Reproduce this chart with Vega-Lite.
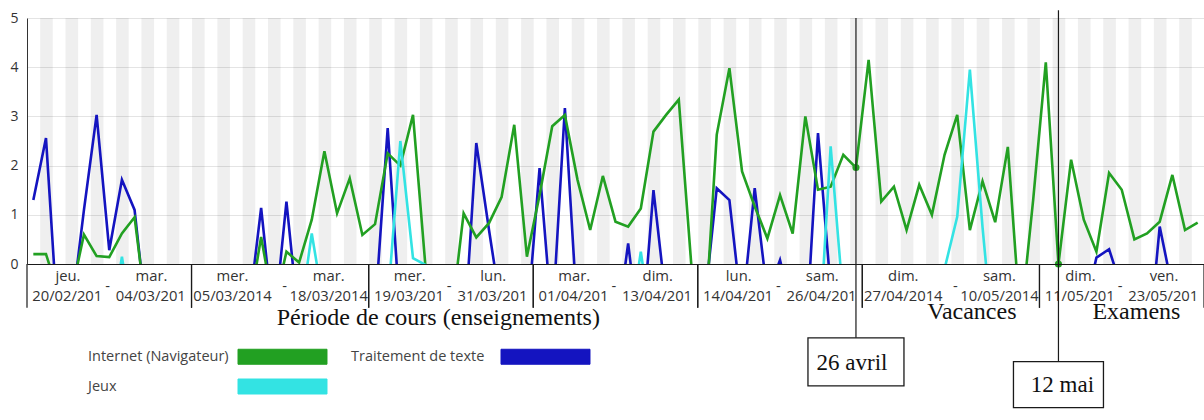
{
  "$schema": "https://vega.github.io/schema/vega-lite/v6.json",
  "width": 1177,
  "height": 246,
  "autosize": {"type": "none"},
  "padding": {"left": 27, "top": 18, "right": 0, "bottom": 156},
  "background": "white",
  "config": {"view": {"stroke": null}, "font": "Open Sans"},
  "datasets": {
    "usage": [
      {"date": "2014-02-20", "internet": 0.2, "texte": 1.3, "jeux": -1},
      {"date": "2014-02-21", "internet": 0.2, "texte": 2.56, "jeux": -1},
      {"date": "2014-02-22", "internet": -0.6, "texte": -1.5, "jeux": -1},
      {"date": "2014-02-23", "internet": -0.6, "texte": -1.0, "jeux": -1},
      {"date": "2014-02-24", "internet": 0.6, "texte": 1.1, "jeux": -1},
      {"date": "2014-02-25", "internet": 0.16, "texte": 3.03, "jeux": -1},
      {"date": "2014-02-26", "internet": 0.14, "texte": 0.28, "jeux": -1.5},
      {"date": "2014-02-27", "internet": 0.62, "texte": 1.71, "jeux": 0.15},
      {"date": "2014-02-28", "internet": 0.95, "texte": 1.1, "jeux": -1.5},
      {"date": "2014-03-01", "internet": -1.1, "texte": -1.24, "jeux": -1},
      {"date": "2014-03-02", "internet": -1, "texte": -1, "jeux": -1},
      {"date": "2014-03-03", "internet": -1, "texte": -1, "jeux": -1},
      {"date": "2014-03-04", "internet": -1, "texte": -1, "jeux": -1},
      {"date": "2014-03-05", "internet": -1, "texte": -1, "jeux": -1},
      {"date": "2014-03-06", "internet": -1, "texte": -1, "jeux": -1},
      {"date": "2014-03-07", "internet": -1, "texte": -1, "jeux": -1},
      {"date": "2014-03-08", "internet": -1, "texte": -1, "jeux": -1},
      {"date": "2014-03-09", "internet": -1, "texte": -1.0, "jeux": -1},
      {"date": "2014-03-10", "internet": 0.55, "texte": 1.14, "jeux": -1},
      {"date": "2014-03-11", "internet": -0.9, "texte": -1.3, "jeux": -1},
      {"date": "2014-03-12", "internet": 0.25, "texte": 1.27, "jeux": -1},
      {"date": "2014-03-13", "internet": 0.03, "texte": -1.27, "jeux": -1.2},
      {"date": "2014-03-14", "internet": 0.9, "texte": -1, "jeux": 0.62},
      {"date": "2014-03-15", "internet": 2.29, "texte": -1, "jeux": -0.93},
      {"date": "2014-03-16", "internet": 1.03, "texte": -1, "jeux": -1},
      {"date": "2014-03-17", "internet": 1.74, "texte": -1, "jeux": -1},
      {"date": "2014-03-18", "internet": 0.59, "texte": -1, "jeux": -1},
      {"date": "2014-03-19", "internet": 0.81, "texte": -0.97, "jeux": -1},
      {"date": "2014-03-20", "internet": 2.25, "texte": 2.76, "jeux": -0.79},
      {"date": "2014-03-21", "internet": 2.0, "texte": -1.13, "jeux": 2.5},
      {"date": "2014-03-22", "internet": 3.03, "texte": -1, "jeux": 0.12},
      {"date": "2014-03-23", "internet": -0.1, "texte": -1, "jeux": -0.02},
      {"date": "2014-03-24", "internet": -1, "texte": -1, "jeux": -1},
      {"date": "2014-03-25", "internet": -1.16, "texte": -1, "jeux": -1},
      {"date": "2014-03-26", "internet": 1.03, "texte": -1.64, "jeux": -1},
      {"date": "2014-03-27", "internet": 0.54, "texte": 2.46, "jeux": -1},
      {"date": "2014-03-28", "internet": 0.83, "texte": 0.7, "jeux": -1},
      {"date": "2014-03-29", "internet": 1.36, "texte": -0.97, "jeux": -1},
      {"date": "2014-03-30", "internet": 2.83, "texte": -1, "jeux": -1},
      {"date": "2014-03-31", "internet": 0.15, "texte": -1.25, "jeux": -1},
      {"date": "2014-04-01", "internet": 1.4, "texte": 1.95, "jeux": -1},
      {"date": "2014-04-02", "internet": 2.8, "texte": -1.2, "jeux": -1},
      {"date": "2014-04-03", "internet": 3.03, "texte": 3.17, "jeux": -1},
      {"date": "2014-04-04", "internet": 1.71, "texte": -1.11, "jeux": -1},
      {"date": "2014-04-05", "internet": 0.69, "texte": -1, "jeux": -1},
      {"date": "2014-04-06", "internet": 1.79, "texte": -1, "jeux": -1},
      {"date": "2014-04-07", "internet": 0.86, "texte": -1.5, "jeux": -1},
      {"date": "2014-04-08", "internet": 0.76, "texte": 0.42, "jeux": -1.5},
      {"date": "2014-04-09", "internet": 1.13, "texte": -1.7, "jeux": 0.25},
      {"date": "2014-04-10", "internet": 2.69, "texte": 1.5, "jeux": -1.5},
      {"date": "2014-04-11", "internet": 3.03, "texte": -0.77, "jeux": -1},
      {"date": "2014-04-12", "internet": 3.34, "texte": -1, "jeux": -1},
      {"date": "2014-04-13", "internet": -0.05, "texte": -1, "jeux": -1},
      {"date": "2014-04-14", "internet": -1.55, "texte": -0.9, "jeux": -1},
      {"date": "2014-04-15", "internet": 2.63, "texte": 1.54, "jeux": -1},
      {"date": "2014-04-16", "internet": 3.98, "texte": 1.3, "jeux": -1},
      {"date": "2014-04-17", "internet": 1.88, "texte": -1.0, "jeux": -1},
      {"date": "2014-04-18", "internet": 1.17, "texte": 1.54, "jeux": -1},
      {"date": "2014-04-19", "internet": 0.52, "texte": -0.63, "jeux": -1},
      {"date": "2014-04-20", "internet": 1.4, "texte": 0.08, "jeux": -1},
      {"date": "2014-04-21", "internet": 0.62, "texte": -1, "jeux": -1},
      {"date": "2014-04-22", "internet": 3.0, "texte": -1.7, "jeux": -1},
      {"date": "2014-04-23", "internet": 1.51, "texte": 2.66, "jeux": -1.95},
      {"date": "2014-04-24", "internet": 1.57, "texte": -0.5, "jeux": 2.39},
      {"date": "2014-04-25", "internet": 2.22, "texte": -1, "jeux": -0.75},
      {"date": "2014-04-26", "internet": 1.96, "texte": -1, "jeux": -1},
      {"date": "2014-04-27", "internet": 4.15, "texte": -1, "jeux": -1},
      {"date": "2014-04-28", "internet": 1.27, "texte": -1, "jeux": -1},
      {"date": "2014-04-29", "internet": 1.57, "texte": -1, "jeux": -1},
      {"date": "2014-04-30", "internet": 0.69, "texte": -1, "jeux": -1},
      {"date": "2014-05-01", "internet": 1.61, "texte": -1, "jeux": -1},
      {"date": "2014-05-02", "internet": 1.0, "texte": -1, "jeux": -1},
      {"date": "2014-05-03", "internet": 2.22, "texte": -1, "jeux": -0.1},
      {"date": "2014-05-04", "internet": 3.03, "texte": -1, "jeux": 0.96},
      {"date": "2014-05-05", "internet": 0.69, "texte": -1, "jeux": 3.95},
      {"date": "2014-05-06", "internet": 1.68, "texte": -1, "jeux": 0.75},
      {"date": "2014-05-07", "internet": 0.85, "texte": -1, "jeux": -2},
      {"date": "2014-05-08", "internet": 2.38, "texte": -1, "jeux": -1},
      {"date": "2014-05-09", "internet": -1.2, "texte": -1, "jeux": -1},
      {"date": "2014-05-10", "internet": 1.3, "texte": -1, "jeux": -1},
      {"date": "2014-05-11", "internet": 4.1, "texte": -1, "jeux": -1},
      {"date": "2014-05-12", "internet": 0, "texte": -1, "jeux": -1},
      {"date": "2014-05-13", "internet": 2.12, "texte": -1, "jeux": -1},
      {"date": "2014-05-14", "internet": 0.9, "texte": -1, "jeux": -1},
      {"date": "2014-05-15", "internet": 0.25, "texte": 0.13, "jeux": -1},
      {"date": "2014-05-16", "internet": 1.85, "texte": 0.3, "jeux": -1},
      {"date": "2014-05-17", "internet": 1.51, "texte": -0.5, "jeux": -1},
      {"date": "2014-05-18", "internet": 0.5, "texte": -1, "jeux": -1},
      {"date": "2014-05-19", "internet": 0.62, "texte": -2, "jeux": -1},
      {"date": "2014-05-20", "internet": 0.86, "texte": 0.76, "jeux": -1},
      {"date": "2014-05-21", "internet": 1.81, "texte": -0.5, "jeux": -1},
      {"date": "2014-05-22", "internet": 0.69, "texte": -1, "jeux": -1},
      {"date": "2014-05-23", "internet": 0.84, "texte": -1, "jeux": -1}
    ],
    "groupes": [
      {"debut": "2014-02-20", "fin": "2014-03-04", "jourDebut": "jeu.", "dateDebut": "20/02/2014", "jourFin": "mar.", "dateFin": "04/03/2014"},
      {"debut": "2014-03-05", "fin": "2014-03-18", "jourDebut": "mer.", "dateDebut": "05/03/2014", "jourFin": "mar.", "dateFin": "18/03/2014"},
      {"debut": "2014-03-19", "fin": "2014-03-31", "jourDebut": "mer.", "dateDebut": "19/03/2014", "jourFin": "lun.", "dateFin": "31/03/2014"},
      {"debut": "2014-04-01", "fin": "2014-04-13", "jourDebut": "mar.", "dateDebut": "01/04/2014", "jourFin": "dim.", "dateFin": "13/04/2014"},
      {"debut": "2014-04-14", "fin": "2014-04-26", "jourDebut": "lun.", "dateDebut": "14/04/2014", "jourFin": "sam.", "dateFin": "26/04/2014"},
      {"debut": "2014-04-27", "fin": "2014-05-10", "jourDebut": "dim.", "dateDebut": "27/04/2014", "jourFin": "sam.", "dateFin": "10/05/2014"},
      {"debut": "2014-05-11", "fin": "2014-05-23", "jourDebut": "dim.", "dateDebut": "11/05/2014", "jourFin": "ven.", "dateFin": "23/05/2014"}
    ]
  },
  "layer": [
    {
      "data": {"name": "usage"},
      "transform": [{"filter": "((+toDate(datum.date) - utc(2014,1,20)) / 86400000) % 2 == 1"}],
      "mark": {"type": "rect", "color": "#000000", "opacity": 0.063},
      "encoding": {
        "x": {"field": "date", "type": "temporal", "timeUnit": "utcyearmonthdate",
          "scale": {"type": "utc", "domain": [{"year": 2014, "month": 2, "date": 20, "utc": true}, {"year": 2014, "month": 5, "date": 24, "utc": true}], "nice": false},
          "axis": {"labels": false, "ticks": false, "grid": false, "title": null, "domainColor": "#1a1a1a", "domainWidth": 1.2, "zindex": 1}}
      }
    },
    {
      "data": {"name": "usage"},
      "mark": {"type": "line", "clip": true, "strokeWidth": 2.6},
      "encoding": {
        "x": {"field": "date", "type": "temporal", "timeUnit": "utcyearmonthdate", "bandPosition": 0.5},
        "y": {"field": "texte", "type": "quantitative",
          "scale": {"domain": [0, 5], "nice": false, "zero": false},
          "axis": {"values": [0, 1, 2, 3, 4, 5], "ticks": false, "title": null, "labelFont": "Open Sans", "labelFontSize": 14, "labelColor": "#333", "labelPadding": 9, "domainColor": "#333", "gridColor": "#e4e4e4"}},
        "color": {"datum": "Traitement de texte", "type": "nominal",
          "scale": {"domain": ["Internet (Navigateur)", "Traitement de texte", "Jeux"], "range": ["#22a022", "#1414c0", "#33e3e3"]},
          "legend": {"orient": "none", "legendX": 247.5, "legendY": 330.5, "title": null, "direction": "horizontal", "columns": 2,
            "symbolType": "M-5.933,-1H5.933V1H-5.933Z", "symbolSize": 225, "symbolStrokeWidth": 1, "symbolStrokeColor": "#333",
            "labelOffset": -202.5, "labelAlign": "left", "labelFont": "Open Sans", "labelFontSize": 14.5, "labelColor": "#444", "labelLimit": 0,
            "columnPadding": 21, "rowPadding": 10, "padding": 0,
            "encode": {"symbols": {"update": {"fill": {"scale": "color", "field": "value"}, "stroke": {"value": "#333"}, "strokeWidth": {"value": 1}, "opacity": {"value": 1}}}}}}
      }
    },
    {
      "data": {"name": "usage"},
      "mark": {"type": "line", "clip": true, "strokeWidth": 2.6},
      "encoding": {
        "x": {"field": "date", "type": "temporal", "timeUnit": "utcyearmonthdate", "bandPosition": 0.5},
        "y": {"field": "internet", "type": "quantitative"},
        "color": {"datum": "Internet (Navigateur)", "type": "nominal"}
      }
    },
    {
      "data": {"name": "usage"},
      "mark": {"type": "line", "clip": true, "strokeWidth": 2.6},
      "encoding": {
        "x": {"field": "date", "type": "temporal", "timeUnit": "utcyearmonthdate", "bandPosition": 0.5},
        "y": {"field": "jeux", "type": "quantitative"},
        "color": {"datum": "Jeux", "type": "nominal"}
      }
    },
    {
      "data": {"name": "usage"},
      "transform": [{"filter": "+toDate(datum.date) == utc(2014,3,26) || +toDate(datum.date) == utc(2014,4,12)"}],
      "mark": {"type": "point", "filled": true, "size": 50, "color": "#22a022", "opacity": 1},
      "encoding": {
        "x": {"field": "date", "type": "temporal", "timeUnit": "utcyearmonthdate", "bandPosition": 0.5},
        "y": {"field": "internet", "type": "quantitative"}
      }
    },
    {
      "data": {"name": "groupes"},
      "layer": [
        {
          "mark": {"type": "rule", "color": "#1a1a1a", "strokeWidth": 1.2},
          "encoding": {
            "x": {"field": "debut", "type": "temporal", "timeUnit": "utcyearmonthdate", "bandPosition": 0},
            "y": {"datum": 0},
            "y2": {"datum": -0.89}
          }
        },
        {
          "mark": {"type": "rule", "color": "#1a1a1a", "strokeWidth": 1.2},
          "encoding": {
            "x": {"field": "fin", "type": "temporal", "timeUnit": "utcyearmonthdate", "bandPosition": 1},
            "y": {"datum": 0},
            "y2": {"datum": -0.89}
          }
        },
        {
          "mark": {"type": "text", "font": "Open Sans", "fontSize": 14.8, "color": "#333", "dx": 41, "align": "center", "baseline": "middle"},
          "encoding": {
            "x": {"field": "debut", "type": "temporal", "timeUnit": "utcyearmonthdate", "bandPosition": 0},
            "y": {"datum": -0.258},
            "text": {"field": "jourDebut"}
          }
        },
        {
          "mark": {"type": "text", "font": "Open Sans", "fontSize": 14.8, "color": "#333", "dx": 41, "align": "center", "baseline": "middle", "ellipsis": "\u200a",
            "limit": {"expr": "(+toDate(datum.fin) - +toDate(datum.debut)) / 86400000 < 12.5 ? 74 : 0"}},
          "encoding": {
            "x": {"field": "debut", "type": "temporal", "timeUnit": "utcyearmonthdate", "bandPosition": 0},
            "y": {"datum": -0.665},
            "text": {"field": "dateDebut"}
          }
        },
        {
          "mark": {"type": "text", "font": "Open Sans", "fontSize": 14.8, "color": "#333", "dx": -40, "align": "center", "baseline": "middle"},
          "encoding": {
            "x": {"field": "fin", "type": "temporal", "timeUnit": "utcyearmonthdate", "bandPosition": 1},
            "y": {"datum": -0.258},
            "text": {"field": "jourFin"}
          }
        },
        {
          "mark": {"type": "text", "font": "Open Sans", "fontSize": 14.8, "color": "#333", "dx": -40, "align": "center", "baseline": "middle", "ellipsis": "\u200a",
            "limit": {"expr": "(+toDate(datum.fin) - +toDate(datum.debut)) / 86400000 < 12.5 ? 74 : 0"}},
          "encoding": {
            "x": {"field": "fin", "type": "temporal", "timeUnit": "utcyearmonthdate", "bandPosition": 1},
            "y": {"datum": -0.665},
            "text": {"field": "dateFin"}
          }
        },
        {
          "mark": {"type": "text", "font": "Open Sans", "fontSize": 14.8, "color": "#333", "dx": -84, "align": "center", "baseline": "middle", "text": "-"},
          "encoding": {
            "x": {"field": "fin", "type": "temporal", "timeUnit": "utcyearmonthdate", "bandPosition": 1},
            "y": {"datum": -0.47}
          }
        }
      ]
    },
    {
      "data": {"values": [{"date": "2014-04-26", "label": "26 avril"}]},
      "layer": [
        {
          "mark": {"type": "rule", "color": "#1a1a1a", "strokeWidth": 1.2},
          "encoding": {
            "x": {"field": "date", "type": "temporal", "timeUnit": "utcyearmonthdate", "bandPosition": 0.5},
            "y": {"datum": 5},
            "y2": {"datum": -1.5}
          }
        },
        {
          "mark": {"type": "point", "shape": "M-1,-0.5H1V0.5H-1Z", "size": 9216, "filled": false, "color": "#1a1a1a", "strokeWidth": 1.3, "opacity": 1},
          "encoding": {
            "x": {"field": "date", "type": "temporal", "timeUnit": "utcyearmonthdate", "bandPosition": 0.5},
            "y": {"datum": -1.99}
          }
        },
        {
          "mark": {"type": "text", "font": "Liberation Serif", "fontSize": 23, "color": "#111", "dx": -4, "align": "center", "baseline": "middle"},
          "encoding": {
            "x": {"field": "date", "type": "temporal", "timeUnit": "utcyearmonthdate", "bandPosition": 0.5},
            "y": {"datum": -2.01},
            "text": {"field": "label"}
          }
        }
      ]
    },
    {
      "data": {"values": [{"date": "2014-05-12", "label": "12 mai"}]},
      "layer": [
        {
          "mark": {"type": "rule", "color": "#1a1a1a", "strokeWidth": 1.2},
          "encoding": {
            "x": {"field": "date", "type": "temporal", "timeUnit": "utcyearmonthdate", "bandPosition": 0.5},
            "y": {"datum": 5.16},
            "y2": {"datum": -1.99}
          }
        },
        {
          "mark": {"type": "point", "shape": "M-1,-0.511H1V0.511H-1Z", "size": 8100, "filled": false, "color": "#1a1a1a", "strokeWidth": 1.3, "opacity": 1},
          "encoding": {
            "x": {"field": "date", "type": "temporal", "timeUnit": "utcyearmonthdate", "bandPosition": 0.5},
            "y": {"datum": -2.45}
          }
        },
        {
          "mark": {"type": "text", "font": "Liberation Serif", "fontSize": 23, "color": "#111", "dx": 4, "align": "center", "baseline": "middle"},
          "encoding": {
            "x": {"field": "date", "type": "temporal", "timeUnit": "utcyearmonthdate", "bandPosition": 0.5},
            "y": {"datum": -2.46},
            "text": {"field": "label"}
          }
        }
      ]
    },
    {
      "data": {"values": [{"date": "2014-03-24", "texte": "Période de cours (enseignements)"}]},
      "mark": {"type": "text", "font": "Liberation Serif", "fontSize": 24, "color": "#111", "align": "center", "baseline": "middle"},
      "encoding": {
        "x": {"field": "date", "type": "temporal", "timeUnit": "utcyearmonthdate", "bandPosition": 0.5},
        "y": {"datum": -1.1},
        "text": {"field": "texte"}
      }
    },
    {
      "data": {"values": [{"date": "2014-05-05", "texte": "Vacances"}, {"date": "2014-05-18", "texte": "Examens"}]},
      "mark": {"type": "text", "font": "Liberation Serif", "fontSize": 24, "color": "#111", "align": "center", "baseline": "middle", "dx": 2},
      "encoding": {
        "x": {"field": "date", "type": "temporal", "timeUnit": "utcyearmonthdate", "bandPosition": 0.5},
        "y": {"datum": -0.97},
        "text": {"field": "texte"}
      }
    }
  ]
}
